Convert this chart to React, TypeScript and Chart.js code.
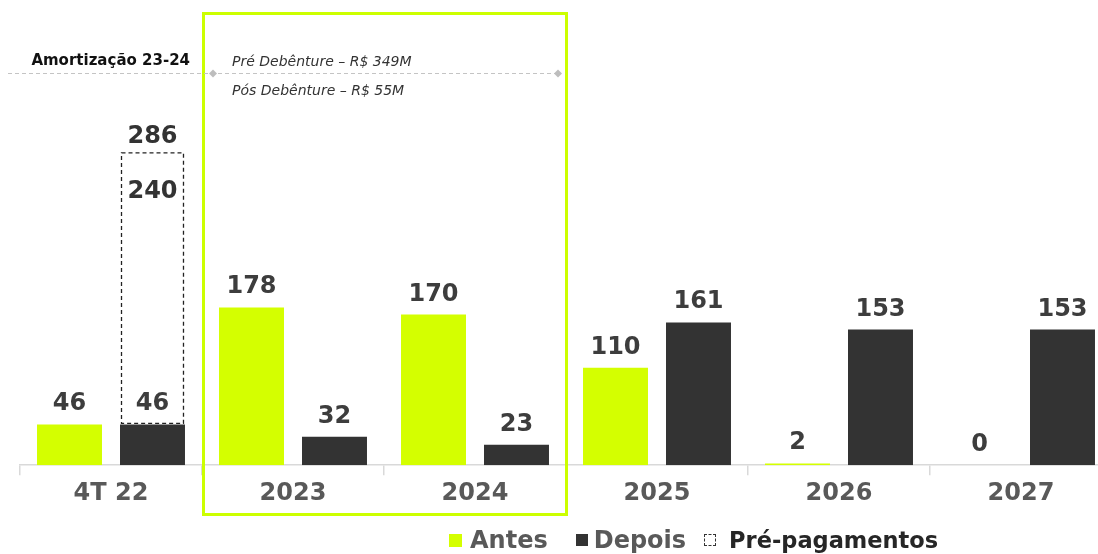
import React, { useEffect, useRef } from "react";
import { Chart, registerables } from "chart.js";

Chart.register(...registerables);

const categories = ["4T 22", "2023", "2024", "2025", "2026", "2027"];
const antes = [46, 178, 170, 110, 2, 0];
const depois = [46, 32, 23, 161, 153, 153];
const prePagamentos: (number | null)[] = [240, null, null, null, null, null];
const seriesNames = ["Antes", "Depois", "Pré-pagamentos"];
const amortTitle = "Amortização 23-24";
const amortNotes = ["Pré Debênture – R$ 349M", "Pós Debênture – R$ 55M"];
const highlightRange = [1, 2];

const LIME = "#d4ff00";
const BOX_LIME = "#ccff00";
const DARK = "#333333";
const FAMILY = "'DejaVu Sans', Verdana, sans-serif";

const overlayPlugin = {
  id: "overlay",
  beforeDatasetsDraw(chart: any) {
    const ctx = chart.ctx;
    const x = chart.scales.x;
    const step = x.getPixelForValue(1) - x.getPixelForValue(0);
    const left = x.getPixelForValue(highlightRange[0]) - step / 2;
    const right = x.getPixelForValue(highlightRange[1]) + step / 2;
    ctx.save();
    // highlight box
    ctx.strokeStyle = BOX_LIME;
    ctx.lineWidth = 3;
    ctx.strokeRect(left + 1.5, 13.5, right - left - 1, 501);
    // dotted line
    ctx.strokeStyle = "#c4c4c4";
    ctx.lineWidth = 1;
    ctx.setLineDash([4, 3]);
    ctx.beginPath();
    ctx.moveTo(8, 73.5);
    ctx.lineTo(right - 8, 73.5);
    ctx.stroke();
    ctx.setLineDash([]);
    ctx.fillStyle = "#bdbdbd";
    for (const dx of [left + 11, right - 8]) {
      ctx.beginPath();
      ctx.moveTo(dx, 69.5);
      ctx.lineTo(dx + 4, 73.5);
      ctx.lineTo(dx, 77.5);
      ctx.lineTo(dx - 4, 73.5);
      ctx.closePath();
      ctx.fill();
    }
    // texts
    ctx.fillStyle = "#111111";
    ctx.font = `bold 15px ${FAMILY}`;
    ctx.textAlign = "right";
    ctx.textBaseline = "alphabetic";
    ctx.fillText(amortTitle, left - 12, 65);
    ctx.fillStyle = "#333333";
    ctx.font = `italic 14px ${FAMILY}`;
    ctx.textAlign = "left";
    ctx.fillText(amortNotes[0], left + 30, 66);
    ctx.fillText(amortNotes[1], left + 30, 95);
    ctx.restore();
  },
  afterDatasetsDraw(chart: any) {
    const ctx = chart.ctx;
    ctx.save();
    ctx.font = `bold 24px ${FAMILY}`;
    ctx.fillStyle = "#3d3d3d";
    ctx.textAlign = "center";
    ctx.textBaseline = "alphabetic";
    [antes, depois].forEach((values, di) => {
      const meta = chart.getDatasetMeta(di);
      meta.data.forEach((el: any, i: number) => {
        ctx.fillText(String(values[i]), el.x, el.y - 14);
      });
    });
    const pm = chart.getDatasetMeta(2);
    pm.data.forEach((el: any, i: number) => {
      const v = prePagamentos[i];
      if (v == null) return;
      const w = el.width;
      ctx.strokeStyle = "#222222";
      ctx.lineWidth = 1.3;
      ctx.setLineDash([4, 3]);
      ctx.strokeRect(el.x - w / 2 + 1.5, el.y, w - 3, el.base - el.y);
      ctx.setLineDash([]);
      ctx.fillStyle = "#333333";
      ctx.fillText(String(depois[i] + v), el.x, el.y - 10);
      ctx.fillText(String(v), el.x, el.y + 45);
    });
    ctx.restore();
  },
};

export default function App() {
  const ref = useRef<HTMLCanvasElement | null>(null);

  useEffect(() => {
    if (!ref.current) return;
    const chart = new Chart(ref.current, {
      type: "bar",
      data: {
        labels: categories,
        datasets: [
          { label: seriesNames[0], data: antes, backgroundColor: LIME, stack: "a", yAxisID: "y" },
          { label: seriesNames[1], data: depois, backgroundColor: DARK, stack: "b", yAxisID: "y" },
          {
            label: seriesNames[2],
            data: prePagamentos.map((v, i) => (v == null ? null : [depois[i], depois[i] + v])) as any,
            backgroundColor: "rgba(0,0,0,0)",
            stack: "b",
            yAxisID: "y2",
          },
        ],
      },
      options: {
        responsive: false,
        animation: false,
        devicePixelRatio: 1,
        layout: { padding: { left: 20, right: 8, top: 22, bottom: 42 } },
        datasets: { bar: { categoryPercentage: 0.912, barPercentage: 0.783, borderWidth: 0 } },
        plugins: { legend: { display: false }, tooltip: { enabled: false } },
        scales: {
          x: {
            grid: {
              display: true,
              drawOnChartArea: false,
              drawTicks: true,
              tickLength: 10,
              color: "#d9d9d9",
              offset: true,
              lineWidth: 1.5,
            },
            border: { display: true, color: "#d9d9d9", width: 1.5 },
            ticks: {
              color: "#595959",
              font: { family: FAMILY, size: 24, weight: "bold" },
              padding: 4,
              autoSkip: false,
              maxRotation: 0,
            },
          },
          y: { display: false, min: 0, max: 500, stacked: false },
          y2: { display: false, min: 9, max: 402, stacked: false },
        },
      } as any,
      plugins: [overlayPlugin],
    });
    return () => chart.destroy();
  }, []);

  const legendItems = [
    { name: seriesNames[0], swatch: { width: 13, height: 13, background: LIME }, gap: 8, color: "#595959", size: 24, after: 28 },
    { name: seriesNames[1], swatch: { width: 12, height: 12, background: DARK }, gap: 6, color: "#595959", size: 24, after: 18 },
    {
      name: seriesNames[2],
      swatch: { width: 12, height: 12, border: "1px dashed #333", boxSizing: "border-box" as const },
      gap: 13,
      color: "#262626",
      size: 22.5,
      after: 0,
    },
  ];

  return (
    <div
      style={{
        position: "fixed",
        left: 0,
        top: 0,
        width: 1098,
        height: 554,
        overflow: "hidden",
        background: "#ffffff",
      }}
    >
      <canvas ref={ref} width={1120} height={554} style={{ display: "block", width: 1120, height: 554 }} />
      <div
        style={{
          position: "absolute",
          left: 449,
          top: 526,
          height: 28,
          display: "flex",
          alignItems: "center",
          fontFamily: FAMILY,
          fontWeight: "bold",
          whiteSpace: "nowrap",
        }}
      >
        {legendItems.map((it) => (
          <div key={it.name} style={{ display: "flex", alignItems: "center", marginRight: it.after }}>
            <span style={{ display: "inline-block", ...it.swatch, marginRight: it.gap }} />
            <span style={{ color: it.color, fontSize: it.size, lineHeight: "28px" }}>{it.name}</span>
          </div>
        ))}
      </div>
    </div>
  );
}
